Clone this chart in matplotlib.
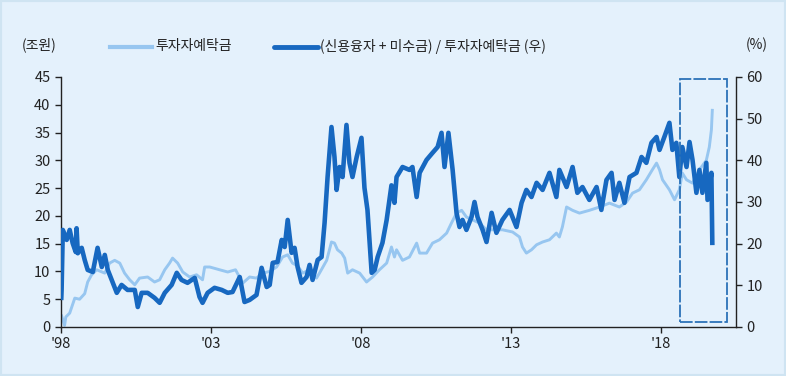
import matplotlib
matplotlib.use("Agg")
import matplotlib.pyplot as plt
from matplotlib.patches import Rectangle

plt.rcParams['font.family'] = ['Noto Sans CJK KR', 'DejaVu Sans']

# 투자자예탁금 (조원, left axis)
dep_year = [1998.02, 1998.12, 1998.16, 1998.29, 1998.46, 1998.62, 1998.79, 1998.89, 1999.02, 1999.19,
            1999.46, 1999.62, 1999.79, 1999.96, 2000.12, 2000.29, 2000.46, 2000.62, 2000.89, 2001.12,
            2001.29, 2001.46, 2001.62, 2001.72, 2001.89, 2002.06, 2002.29, 2002.52, 2002.72, 2002.79,
            2002.96, 2003.29, 2003.56, 2003.82, 2004.06, 2004.29, 2004.52, 2004.72, 2004.96, 2005.19,
            2005.39, 2005.56, 2005.72, 2005.89, 2006.06, 2006.29, 2006.52, 2006.62, 2006.86, 2007.02,
            2007.12, 2007.22, 2007.36, 2007.46, 2007.56, 2007.72, 2007.96, 2008.19, 2008.39, 2008.62,
            2008.86, 2009.02, 2009.12, 2009.19, 2009.39, 2009.62, 2009.86, 2009.96, 2010.19, 2010.39,
            2010.62, 2010.86, 2011.02, 2011.19, 2011.36, 2011.52, 2011.72, 2011.96, 2012.19, 2012.39,
            2012.72, 2013.06, 2013.29, 2013.39, 2013.52, 2013.69, 2013.86, 2014.06, 2014.29, 2014.52,
            2014.62, 2014.72, 2014.86, 2015.06, 2015.29, 2015.62, 2015.96, 2016.29, 2016.62, 2016.86,
            2017.06, 2017.29, 2017.52, 2017.72, 2017.86, 2017.96, 2018.06, 2018.29, 2018.46, 2018.62,
            2018.72, 2018.86, 2019.06, 2019.29, 2019.52, 2019.62, 2019.69, 2019.72]
dep_val = [2.0, 0.3, 1.8, 2.5, 5.2, 5.0, 6.0, 8.1, 9.4, 10.3,
           9.7, 11.5, 12.0, 11.5, 9.7, 8.5, 7.6, 8.8, 9.0, 8.1,
           8.5, 10.3, 11.5, 12.4, 11.5, 9.9, 9.0, 9.4, 8.5, 10.8,
           10.8, 10.3, 9.9, 10.3, 7.9, 9.0, 8.8, 9.7, 10.0, 10.8,
           12.6, 13.0, 11.5, 11.0, 9.7, 10.3, 8.8, 9.7, 12.0, 15.3,
           15.1, 13.9, 13.3, 12.4, 9.7, 10.3, 9.7, 8.1, 9.0, 10.3,
           11.5, 14.4, 12.6, 13.9, 12.0, 12.6, 15.1, 13.3, 13.3, 15.1,
           15.7, 16.9, 18.7, 20.5, 21.0, 19.8, 19.3, 18.7, 17.5, 17.5,
           17.5, 17.1, 16.2, 14.4, 13.3, 13.9, 14.8, 15.3, 15.7, 16.9,
           16.2, 18.0, 21.6, 21.0, 20.5, 21.0, 21.6, 22.3, 21.6, 22.5,
           24.1, 24.7, 26.5, 28.3, 29.5, 28.3, 26.5, 24.7, 22.9, 24.7,
           27.7, 26.5, 25.9, 28.3, 30.0, 32.4, 35.5, 39.0]

# (신용융자 + 미수금) / 투자자예탁금 (%, right axis)
ratio_year = [1998.01, 1998.02, 1998.06, 1998.19, 1998.29, 1998.39, 1998.49, 1998.52, 1998.56, 1998.69,
              1998.79, 1998.89, 1999.06, 1999.22, 1999.36, 1999.46, 1999.56, 1999.69, 1999.86, 2000.02,
              2000.22, 2000.46, 2000.56, 2000.69, 2000.89, 2001.12, 2001.29, 2001.46, 2001.69, 2001.86,
              2002.02, 2002.22, 2002.46, 2002.62, 2002.72, 2002.89, 2003.12, 2003.36, 2003.56, 2003.72,
              2003.96, 2004.12, 2004.29, 2004.52, 2004.69, 2004.86, 2004.96, 2005.06, 2005.22, 2005.36,
              2005.46, 2005.56, 2005.69, 2005.79, 2005.89, 2006.02, 2006.19, 2006.29, 2006.39, 2006.56,
              2006.69, 2006.79, 2006.89, 2007.02, 2007.12, 2007.19, 2007.29, 2007.39, 2007.52, 2007.62,
              2007.72, 2007.86, 2008.02, 2008.12, 2008.22, 2008.36, 2008.46, 2008.56, 2008.72, 2008.86,
              2009.02, 2009.12, 2009.19, 2009.39, 2009.62, 2009.72, 2009.86, 2009.96, 2010.19, 2010.39,
              2010.56, 2010.69, 2010.79, 2010.92, 2011.06, 2011.19, 2011.29, 2011.39, 2011.52, 2011.69,
              2011.79, 2011.89, 2012.06, 2012.19, 2012.36, 2012.52, 2012.72, 2012.96, 2013.19, 2013.36,
              2013.52, 2013.69, 2013.86, 2014.06, 2014.29, 2014.52, 2014.62, 2014.86, 2015.06, 2015.22,
              2015.39, 2015.62, 2015.86, 2016.02, 2016.19, 2016.36, 2016.46, 2016.62, 2016.79, 2016.96,
              2017.19, 2017.36, 2017.52, 2017.69, 2017.86, 2017.96, 2018.12, 2018.29, 2018.39, 2018.52,
              2018.62, 2018.72, 2018.86, 2018.96, 2019.06, 2019.19, 2019.29, 2019.39, 2019.52, 2019.56,
              2019.69, 2019.72]
ratio_val = [7.0, 8.9, 23.3, 20.9, 23.3, 20.1, 18.0, 23.7, 17.7, 19.0,
             16.1, 13.7, 13.2, 19.0, 14.4, 17.3, 13.7, 11.3, 8.2, 10.1,
             8.9, 8.9, 4.8, 8.2, 8.2, 7.0, 5.8, 8.2, 10.1, 13.0,
             11.3, 10.6, 11.8, 7.2, 5.8, 8.2, 9.4, 8.9, 8.2, 8.4,
             12.0, 6.0, 6.5, 7.7, 14.2, 9.6, 10.1, 15.4, 15.6, 20.9,
             19.2, 25.7, 17.8, 19.0, 14.4, 10.6, 12.0, 14.9, 11.3, 16.1,
             16.8, 25.0, 36.0, 48.0, 40.8, 32.9, 38.4, 36.0, 48.5, 39.4,
             36.0, 40.8, 45.4, 33.4, 28.1, 13.0, 13.7, 16.8, 20.2, 25.7,
             34.0, 29.8, 36.0, 38.4, 37.7, 38.4, 31.2, 37.0, 40.1, 41.8,
             43.2, 46.6, 38.4, 46.6, 37.7, 27.4, 24.0, 25.7, 23.3, 26.4,
             30.0, 26.4, 23.3, 20.4, 27.4, 22.6, 25.7, 28.1, 24.0, 29.8,
             32.9, 31.2, 34.6, 32.9, 37.0, 31.2, 37.7, 33.6, 38.4, 32.2,
             33.6, 30.5, 33.6, 28.1, 35.3, 37.0, 30.5, 34.6, 29.8, 36.0,
             37.0, 40.8, 39.4, 44.2, 45.6, 42.5, 45.6, 49.0, 42.5, 44.2,
             36.0, 43.2, 38.4, 44.4, 40.1, 32.2, 37.7, 32.2, 39.4, 30.5,
             37.0, 20.2]

x_ticks = [1998, 2003, 2008, 2013, 2018]
x_labels = ["'98", "'03", "'08", "'13", "'18"]
left_ticks = list(range(0, 46, 5))
right_ticks = list(range(0, 61, 10))
highlight_x = (2018.65, 2020.2)
highlight_y = (1.3, 59.5)

bg = '#e4f1fc'
light_c = '#97c6f0'
dark_c = '#1768c0'
txt_c = '#222222'

fig = plt.figure(figsize=(7.86, 3.76), dpi=100, facecolor=bg)
fig.patches.append(Rectangle((0, 0), 1, 1, transform=fig.transFigure, fill=False,
                             edgecolor='#cfe4f2', lw=3, zorder=0))
ax = fig.add_axes([61/786, 1 - 327/376, (736 - 61)/786, (327 - 77)/376])
ax.set_facecolor(bg)
ax2 = ax.twinx()

ax.plot(dep_year, dep_val, color=light_c, lw=2.1, zorder=2)
ax2.plot(ratio_year, ratio_val, color=dark_c, lw=3.3, zorder=3)

ax.set_xlim(1998.0, 2020.51)
ax.set_ylim(0, 45)
ax2.set_ylim(0, 60)
ax.set_yticks(left_ticks)
ax2.set_yticks(right_ticks)
ax.set_xticks(x_ticks)
ax.set_xticklabels(x_labels)

for a in (ax, ax2):
    a.spines['top'].set_visible(False)
    for s in ('left', 'right', 'bottom'):
        a.spines[s].set_color('#222222')
        a.spines[s].set_linewidth(1.0)
ax.spines['right'].set_visible(False)
ax2.spines['left'].set_visible(False)
ax2.spines['bottom'].set_visible(False)

ax.tick_params(axis='both', colors=txt_c, labelsize=10.5, length=4, width=1, direction='out')
ax.tick_params(axis='x', pad=3)
ax2.tick_params(axis='y', colors=txt_c, labelsize=10.5, length=4, width=1, direction='out')

rect = Rectangle((highlight_x[0], highlight_y[0]), highlight_x[1] - highlight_x[0],
                 highlight_y[1] - highlight_y[0], fill=False, edgecolor='#2b72b8',
                 lw=1.3, linestyle=(0, (7, 1.2)), zorder=4)
ax2.add_patch(rect)

fig.text(22/786, 1 - 45/376, '(조원)', fontsize=10, color=txt_c, va='center', ha='left')
fig.text(768/786, 1 - 45/376, '(%)', fontsize=10, color=txt_c, va='center', ha='right')

# legend
fig.lines.append(plt.Line2D([110/786, 152/786], [1 - 47/376] * 2, color=light_c, lw=3,
                            transform=fig.transFigure))
fig.text(155/786, 1 - 46/376, '투자자예탁금', fontsize=10, color=txt_c, va='center', ha='left')
fig.lines.append(plt.Line2D([274/786, 318/786], [1 - 47/376] * 2, color=dark_c, lw=3.5,
                            solid_capstyle='round', transform=fig.transFigure))
fig.text(320/786, 1 - 46/376, '(신용융자 + 미수금) / 투자자예탁금 (우)', fontsize=10,
         color=txt_c, va='center', ha='left')

fig.savefig('out.png', dpi=100, facecolor=bg)
